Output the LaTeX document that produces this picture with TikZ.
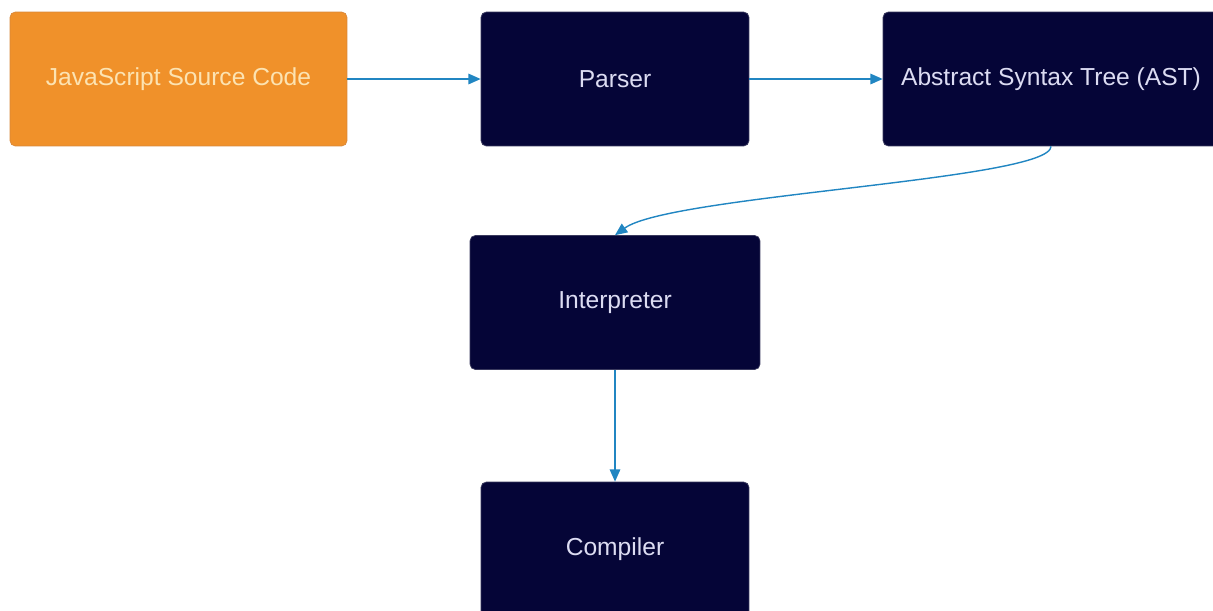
\documentclass[tikz,border=0pt]{standalone}
\usepackage{fontspec}
\setmainfont{Liberation Sans}
\usetikzlibrary{arrows.meta}
\definecolor{sourceorange}{HTML}{F0912A}
\definecolor{sourceedge}{HTML}{D8873A}
\definecolor{sourcetext}{HTML}{FCE3B2}
\definecolor{stagenavy}{HTML}{050537}
\definecolor{stageedge}{HTML}{3A3A5E}
\definecolor{stagetext}{HTML}{DCDCF2}
\definecolor{flowblue}{HTML}{2186C2}

\begin{document}
\begin{tikzpicture}[x=0.02cm, y=-0.02cm,
    stagebox/.style={rectangle, rounded corners=3pt, fill=stagenavy, draw=stageedge,
      line width=0.4pt, text=stagetext, minimum height=2.68cm,
      font=\fontsize{14}{17}\selectfont},
    flow/.style={flowblue, line width=0.8pt, -{Triangle[length=7pt,width=6pt]}}]
        \useasboundingbox (0,0) rectangle (1213,610);

        % Source and front end
        \node[stagebox, fill=sourceorange, draw=sourceedge, text=sourcetext,
          minimum width=6.74cm] (source) at (178.5,79) {JavaScript Source Code};
        \node[stagebox, minimum width=5.36cm] (parser) at (615,79) {Parser};
        \node[stagebox, minimum width=6.72cm] (ast) at (1051,79) {Abstract Syntax Tree (AST)};

        % Execution stages
        \node[stagebox, minimum width=5.8cm] (interp) at (615,302.5) {Interpreter};
        \node[stagebox, minimum width=5.36cm] (compiler) at (615,549) {Compiler};

        % Connectors
        \draw[flow] (source.east) -- (parser.west);
        \draw[flow] (parser.east) -- (ast.west);
        \draw[flow] (ast.south) .. controls (1051,180) and (670,195) .. (interp.north);
        \draw[flow] (interp.south) -- (compiler.north);
      \end{tikzpicture}
\end{document}
